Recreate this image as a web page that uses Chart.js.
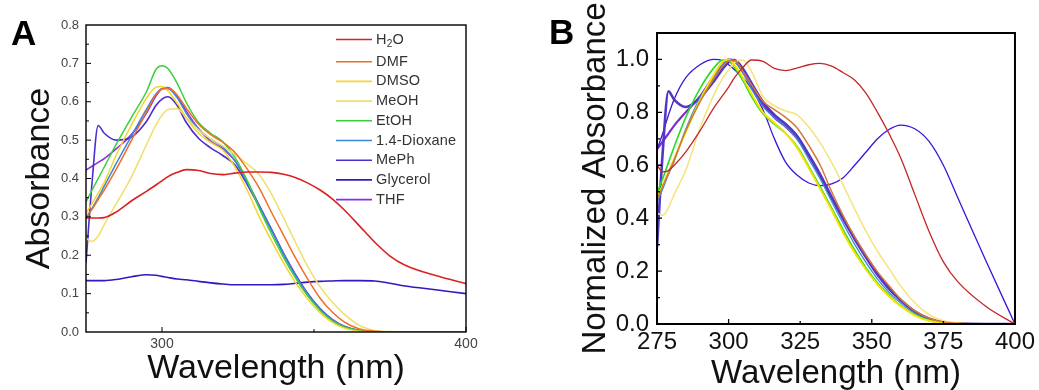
<!DOCTYPE html>
<html><head><meta charset="utf-8">
<script src="https://cdn.jsdelivr.net/npm/chart.js@4.4.1/dist/chart.umd.min.js"></script>
<style>
html,body{margin:0;padding:0;background:#fff;width:1039px;height:390px;overflow:hidden;}
.box{position:absolute;top:0;height:390px;}
#boxA{left:0;width:520px;}
#boxB{left:520px;width:519px;}
canvas{display:block;}
</style></head><body>
<div class="box" id="boxA"><canvas id="chartA" width="520" height="390"></canvas></div>
<div class="box" id="boxB"><canvas id="chartB" width="519" height="390"></canvas></div>
<script>
// ---------------- data ----------------
const wavelength = [275, 277, 279, 281, 285, 290, 295, 298, 300, 302, 305, 308, 312, 316, 320, 324, 328, 332, 336, 340, 344, 348, 352, 356, 360, 365, 370, 375, 380, 390, 400];
const solvents = ['H2O', 'DMF', 'DMSO', 'MeOH', 'EtOH', '1.4-Dioxane', 'MePh', 'Glycerol', 'THF'];

// Panel A: absorbance
const absH2O      = [0.297, 0.297, 0.297, 0.298, 0.313, 0.342, 0.367, 0.383, 0.394, 0.405, 0.416, 0.423, 0.421, 0.413, 0.410, 0.414, 0.417, 0.417, 0.416, 0.411, 0.402, 0.388, 0.370, 0.347, 0.318, 0.276, 0.234, 0.198, 0.174, 0.147, 0.126];
const absDMF      = [0.300, 0.320, 0.345, 0.370, 0.425, 0.500, 0.575, 0.618, 0.634, 0.636, 0.617, 0.583, 0.542, 0.514, 0.495, 0.468, 0.425, 0.375, 0.312, 0.252, 0.192, 0.137, 0.088, 0.052, 0.026, 0.008, 0.002, 0, 0, 0, 0];
const absDMSO     = [0.309, 0.335, 0.362, 0.390, 0.462, 0.540, 0.610, 0.638, 0.640, 0.628, 0.596, 0.558, 0.518, 0.494, 0.474, 0.430, 0.370, 0.300, 0.238, 0.180, 0.128, 0.085, 0.050, 0.025, 0.010, 0.002, 0, 0, 0, 0, 0];
const absMeOH     = [0.244, 0.236, 0.250, 0.280, 0.335, 0.405, 0.490, 0.540, 0.565, 0.580, 0.582, 0.558, 0.527, 0.503, 0.485, 0.462, 0.438, 0.410, 0.360, 0.297, 0.232, 0.170, 0.118, 0.078, 0.046, 0.017, 0.004, 0.001, 0, 0, 0];
const absEtOH     = [0.339, 0.370, 0.400, 0.430, 0.490, 0.560, 0.628, 0.684, 0.694, 0.686, 0.648, 0.598, 0.546, 0.518, 0.496, 0.455, 0.395, 0.322, 0.256, 0.194, 0.140, 0.093, 0.056, 0.029, 0.013, 0.003, 0, 0, 0, 0, 0];
const absDioxane  = [0.296, 0.322, 0.350, 0.380, 0.440, 0.512, 0.582, 0.620, 0.634, 0.634, 0.610, 0.570, 0.528, 0.503, 0.482, 0.446, 0.390, 0.328, 0.266, 0.203, 0.147, 0.098, 0.059, 0.031, 0.014, 0.004, 0.001, 0, 0, 0, 0];
const absMePh     = [0.180, 0.390, 0.538, 0.518, 0.500, 0.508, 0.550, 0.590, 0.607, 0.613, 0.590, 0.546, 0.505, 0.480, 0.460, 0.435, 0.385, 0.326, 0.266, 0.203, 0.147, 0.098, 0.059, 0.031, 0.014, 0.004, 0.001, 0, 0, 0, 0];
const absGlycerol = [0.134, 0.134, 0.134, 0.134, 0.137, 0.144, 0.149, 0.148, 0.145, 0.142, 0.138, 0.136, 0.132, 0.128, 0.125, 0.123, 0.123, 0.123, 0.123, 0.124, 0.127, 0.130, 0.132, 0.133, 0.134, 0.134, 0.133, 0.127, 0.120, 0.110, 0.100];
const absTHF      = [0.422, 0.432, 0.442, 0.452, 0.478, 0.515, 0.572, 0.615, 0.634, 0.637, 0.615, 0.575, 0.530, 0.497, 0.477, 0.446, 0.392, 0.330, 0.268, 0.205, 0.149, 0.100, 0.061, 0.033, 0.015, 0.004, 0.001, 0, 0, 0, 0];

// Panel B: normalized absorbance
const normH2O      = [0.600, 0.575, 0.580, 0.600, 0.650, 0.730, 0.820, 0.865, 0.895, 0.930, 0.970, 0.998, 0.993, 0.966, 0.958, 0.968, 0.980, 0.985, 0.975, 0.950, 0.922, 0.872, 0.800, 0.720, 0.630, 0.490, 0.350, 0.235, 0.160, 0.065, 0.000];
const normDMF      = [0.470, 0.520, 0.570, 0.620, 0.730, 0.840, 0.930, 0.975, 0.995, 0.997, 0.955, 0.905, 0.842, 0.810, 0.780, 0.740, 0.675, 0.600, 0.500, 0.410, 0.330, 0.260, 0.197, 0.145, 0.095, 0.050, 0.022, 0.008, 0.003, 0.001, 0];
const normDMSO     = [0.480, 0.525, 0.575, 0.625, 0.725, 0.845, 0.945, 0.992, 1.000, 0.980, 0.930, 0.870, 0.800, 0.760, 0.720, 0.665, 0.590, 0.510, 0.430, 0.345, 0.270, 0.205, 0.150, 0.105, 0.068, 0.033, 0.012, 0.004, 0.001, 0, 0];
const normMeOH     = [0.420, 0.410, 0.440, 0.490, 0.580, 0.740, 0.870, 0.930, 0.960, 0.988, 0.998, 0.955, 0.860, 0.825, 0.805, 0.790, 0.745, 0.685, 0.610, 0.525, 0.435, 0.350, 0.275, 0.210, 0.145, 0.080, 0.035, 0.012, 0.004, 0, 0];
const normEtOH     = [0.495, 0.550, 0.610, 0.670, 0.780, 0.890, 0.970, 0.998, 0.995, 0.970, 0.920, 0.860, 0.795, 0.755, 0.720, 0.670, 0.596, 0.518, 0.438, 0.356, 0.280, 0.212, 0.155, 0.110, 0.070, 0.035, 0.013, 0.004, 0.001, 0, 0];
const normDioxane  = [0.460, 0.510, 0.565, 0.615, 0.735, 0.855, 0.940, 0.980, 0.997, 0.992, 0.948, 0.890, 0.822, 0.780, 0.745, 0.698, 0.623, 0.548, 0.463, 0.380, 0.302, 0.232, 0.170, 0.120, 0.080, 0.040, 0.016, 0.005, 0.001, 0, 0];
const normMePh     = [0.290, 0.650, 0.880, 0.848, 0.820, 0.855, 0.920, 0.965, 0.990, 0.998, 0.965, 0.910, 0.840, 0.790, 0.755, 0.710, 0.640, 0.565, 0.480, 0.400, 0.325, 0.255, 0.190, 0.135, 0.092, 0.048, 0.020, 0.006, 0.002, 0, 0];
const normGlycerol = [0.660, 0.720, 0.790, 0.850, 0.930, 0.980, 1.000, 0.995, 0.980, 0.962, 0.930, 0.890, 0.810, 0.700, 0.610, 0.562, 0.533, 0.523, 0.530, 0.553, 0.600, 0.650, 0.700, 0.735, 0.752, 0.738, 0.690, 0.600, 0.478, 0.235, 0.000];
const normTHF      = [0.660, 0.690, 0.720, 0.750, 0.800, 0.860, 0.940, 0.980, 1.000, 0.995, 0.955, 0.900, 0.830, 0.780, 0.745, 0.700, 0.635, 0.560, 0.475, 0.395, 0.320, 0.250, 0.185, 0.132, 0.090, 0.047, 0.020, 0.006, 0.002, 0, 0];

// ticks
const xTicksA = [300, 350, 400];
const xLabelsA = [300, 400];
const yTicksA = [0, 0.1, 0.2, 0.3, 0.4, 0.5, 0.6, 0.7, 0.8];
const xTicksB = [275, 300, 325, 350, 375, 400];
const yTicksB = [0, 0.2, 0.4, 0.6, 0.8, 1.0];

// ---------------- styling ----------------
const FONT = "'Liberation Sans', Arial, Helvetica, sans-serif";
const colorsA = ['#dc2020', '#f06e26', '#f2d630', '#f0e068', '#3ccf3c', '#3a88d8', '#4c2ed0', '#3318c2', '#8e2ce2'];
const widthsA = [1.6, 1.5, 1.5, 1.5, 1.5, 1.5, 1.6, 1.6, 1.6];
const colorsB = ['#c42626', '#d0783c', '#f6e200', '#f4e47a', '#24dc24', '#3a8ad0', '#5236c4', '#3c14d8', '#7a2ec6'];
const widthsB = [1.3, 1.5, 2.0, 1.5, 1.6, 1.3, 2.6, 1.3, 2.2];

function buildSets(series, colors, widths) {
  return series.map((vals, i) => ({
    label: solvents[i],
    data: wavelength.map((w, k) => ({x: w, y: vals[k]})),
    borderColor: colors[i],
    backgroundColor: colors[i],
    borderWidth: widths[i],
    pointRadius: 0,
    cubicInterpolationMode: 'monotone',
    fill: false
  }));
}

const decor = {
  id: 'decor',
  afterDatasetsDraw(chart, args, o) {
    const {ctx, chartArea: a, scales: {x, y}} = chart;
    ctx.save();
    // inward ticks
    ctx.strokeStyle = '#000';
    ctx.lineWidth = o.tickWidth;
    ctx.beginPath();
    o.xMajor.forEach(v => { const p = x.getPixelForValue(v); ctx.moveTo(p, a.bottom); ctx.lineTo(p, a.bottom - o.majorLen); });
    o.xMinor.forEach(v => { const p = x.getPixelForValue(v); ctx.moveTo(p, a.bottom); ctx.lineTo(p, a.bottom - o.minorLen); });
    o.yMajor.forEach(v => { const p = y.getPixelForValue(v); ctx.moveTo(a.left, p); ctx.lineTo(a.left + o.majorLen, p); });
    o.yMinor.forEach(v => { const p = y.getPixelForValue(v); ctx.moveTo(a.left, p); ctx.lineTo(a.left + o.minorLen, p); });
    ctx.stroke();
    // frame
    ctx.lineWidth = o.frameWidth;
    ctx.strokeRect(a.left, a.top, a.right - a.left, a.bottom - a.top);
    // legend
    const L = o.legend;
    chart.data.datasets.forEach((ds, i) => {
      const yy = L.rows[i];
      ctx.strokeStyle = ds.borderColor;
      ctx.lineWidth = L.lineWidths[i];
      ctx.beginPath(); ctx.moveTo(L.x0, yy); ctx.lineTo(L.x1, yy); ctx.stroke();
      ctx.fillStyle = L.color;
      ctx.textBaseline = 'middle';
      ctx.textAlign = 'left';
      if ('letterSpacing' in ctx) ctx.letterSpacing = L.spacing;
      ctx.font = L.size + 'px ' + FONT;
      let tx = L.tx;
      if (ds.label === 'H2O') {
        ctx.fillText('H', tx, yy); tx += ctx.measureText('H').width;
        ctx.font = (L.size * 0.7) + 'px ' + FONT;
        ctx.fillText('2', tx, yy + L.size * 0.32); tx += ctx.measureText('2').width;
        ctx.font = L.size + 'px ' + FONT;
        ctx.fillText('O', tx, yy);
      } else {
        ctx.fillText(ds.label, tx, yy);
      }
    });
    if ('letterSpacing' in ctx) ctx.letterSpacing = '0px';
    // panel letter
    ctx.fillStyle = '#000';
    ctx.font = 'bold 35px ' + FONT;
    ctx.textBaseline = 'alphabetic';
    ctx.fillText(o.letter.text, o.letter.x, o.letter.y);
    ctx.restore();
  }
};

// ---------------- chart A ----------------
new Chart(document.getElementById('chartA'), {
  type: 'line',
  data: { datasets: buildSets([absH2O, absDMF, absDMSO, absMeOH, absEtOH, absDioxane, absMePh, absGlycerol, absTHF], colorsA, widthsA) },
  options: {
    responsive: false, animation: false, devicePixelRatio: 1,
    layout: { padding: { left: 0, top: 25, right: 54, bottom: 0 } },
    plugins: {
      legend: { display: false }, tooltip: { enabled: false },
      decor: {
        tickWidth: 1, frameWidth: 1.4, majorLen: 5, minorLen: 3,
        xMajor: [300, 400], xMinor: [350],
        yMajor: [0.1, 0.2, 0.3, 0.4, 0.5, 0.6, 0.7], yMinor: [0.05, 0.15, 0.25, 0.35, 0.45, 0.55, 0.65, 0.75],
        legend: { x0: 336, x1: 372, tx: 376, size: 14.5, spacing: '0.2px', color: '#333',
                  rows: [39.5, 61.7, 81.4, 101.1, 120.8, 140.5, 160.2, 179.9, 199.6],
                  lineWidths: [1.6, 1.6, 1.6, 1.6, 1.6, 1.6, 1.6, 1.8, 1.8] },
        letter: { text: 'A', x: 11, y: 45 }
      }
    },
    scales: {
      x: {
        type: 'linear', min: 275, max: 400,
        afterBuildTicks: s => { s.ticks = xTicksA.map(v => ({ value: v })); },
        afterFit: s => { s.height = 58; },
        grid: { display: false, drawTicks: false }, border: { display: false },
        ticks: { autoSkip: false, maxRotation: 0, padding: 4, color: '#444', font: { family: FONT, size: 14 },
                 callback: v => xLabelsA.includes(v) ? String(v) : '' },
        title: { display: true, text: 'Wavelength (nm)', color: '#111', font: { family: FONT, size: 34, lineHeight: 1 }, padding: { top: 0, bottom: 4.8 } }
      },
      y: {
        type: 'linear', min: 0, max: 0.8,
        afterBuildTicks: s => { s.ticks = yTicksA.map(v => ({ value: v })); },
        afterFit: s => { s.width = 86; },
        grid: { display: false, drawTicks: false }, border: { display: false },
        ticks: { autoSkip: false, padding: 7, color: '#444', font: { family: FONT, size: 13 }, callback: v => Number(v).toFixed(1) },
        title: { display: true, text: 'Absorbance', color: '#111', font: { family: FONT, size: 34, lineHeight: 1 }, padding: { top: 23, bottom: 0 } }
      }
    }
  },
  plugins: [decor]
});

// ---------------- chart B ----------------
new Chart(document.getElementById('chartB'), {
  type: 'line',
  data: { datasets: buildSets([normH2O, normDMF, normDMSO, normMeOH, normEtOH, normDioxane, normMePh, normGlycerol, normTHF], colorsB, widthsB) },
  options: {
    responsive: false, animation: false, devicePixelRatio: 1,
    layout: { padding: { left: 0, top: 33, right: 21, bottom: 0 } },
    plugins: {
      legend: { display: false }, tooltip: { enabled: false },
      decor: {
        tickWidth: 1.3, frameWidth: 2, majorLen: 5, minorLen: 3,
        xMajor: [300, 350], xMinor: [325, 375],
        yMajor: [0.2, 0.4, 0.6, 0.8, 1.0], yMinor: [0.1, 0.3, 0.5, 0.7, 0.9],
        legend: { x0: 894, x1: 928, tx: 932, size: 14, spacing: '0.5px', color: '#333',
                  rows: [45, 66.7, 85.6, 104.5, 123.4, 142.3, 161.2, 180.1, 199],
                  lineWidths: [1.5, 2, 3, 2, 2, 1.5, 2, 3, 3] },
        letter: { text: 'B', x: 29, y: 44 }
      }
    },
    scales: {
      x: {
        type: 'linear', min: 275, max: 400,
        afterBuildTicks: s => { s.ticks = xTicksB.map(v => ({ value: v })); },
        afterFit: s => { s.height = 66; },
        grid: { display: false, drawTicks: false }, border: { display: false },
        ticks: { autoSkip: false, maxRotation: 0, padding: 4, color: '#111', font: { family: FONT, size: 24 } },
        title: { display: true, text: 'Wavelength (nm)', color: '#111', font: { family: FONT, size: 33, lineHeight: 1 }, padding: { top: 0, bottom: 0 } }
      },
      y: {
        type: 'linear', min: 0, max: 1.1,
        afterBuildTicks: s => { s.ticks = yTicksB.map(v => ({ value: v })); },
        afterFit: s => { s.width = 137; },
        grid: { display: false, drawTicks: false }, border: { display: false },
        ticks: { autoSkip: false, padding: 8, color: '#111', font: { family: FONT, size: 24 }, callback: v => Number(v).toFixed(1) },
        title: { display: true, text: 'Normalized Absorbance', color: '#111', font: { family: FONT, size: 33, lineHeight: 1 }, padding: { top: 59, bottom: 0 } }
      }
    }
  },
  plugins: [decor]
});
</script>
</body></html>
